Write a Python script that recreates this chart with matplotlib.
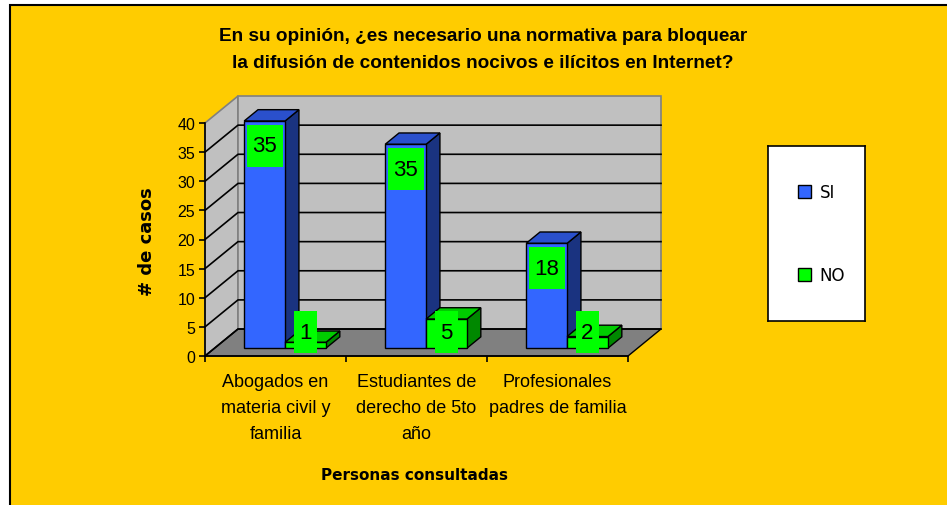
import matplotlib
matplotlib.use("Agg")
import matplotlib.pyplot as plt
from matplotlib.patches import Polygon, Rectangle, Patch

# datos
categorias = ["Abogados en\nmateria civil y\nfamilia",
              "Estudiantes de\nderecho de 5to\naño",
              "Profesionales\npadres de familia"]
si_valores = [39, 35, 18]
si_etiquetas = ["35", "35", "18"]
no_valores = [1, 5, 2]
no_etiquetas = ["1", "5", "2"]
series = ["SI", "NO"]
yticks = [0, 5, 10, 15, 20, 25, 30, 35, 40]

W, H = 947, 506
fig = plt.figure(figsize=(W / 100, H / 100), dpi=100)
fig.patch.set_facecolor("white")

# fondo amarillo con borde
fondo = Rectangle((10 / W, -0.1), 1.2, (H - 6) / H + 0.1, transform=fig.transFigure,
                  facecolor="#FFCC00", edgecolor="black", lw=1.5, zorder=-10)
fig.patches.append(fondo)

# ejes en el plano frontal
ax = fig.add_axes([205 / W, (H - 357) / H, 423 / W, 233 / H])
ax.set_xlim(0, 3)
ax.set_ylim(0, 40)
ax.patch.set_visible(False)

DX = 33 / 141.0   # profundidad en unidades de categoria
DY = 27 / 5.83    # profundidad en unidades de valor
d0, d1 = 0.29, 0.71
ancho = 0.29
upx = 5.83  # pixeles por unidad


def P(x, y, d):
    return (x + d * DX, y + d * DY)


def poly(pts, fc, ec, lw=1.0, z=1):
    ax.add_patch(Polygon(pts, closed=True, facecolor=fc, edgecolor=ec, lw=lw,
                         zorder=z, clip_on=False, joinstyle="miter"))


ymax = yticks[-1]
# paredes y piso
poly([P(0, 0, 0), P(0, 0, 1), P(0, ymax, 1), P(0, ymax, 0)], "#C0C0C0", "#808080", 1.2, 0.5)
poly([P(0, 0, 1), P(3, 0, 1), P(3, ymax, 1), P(0, ymax, 1)], "#C0C0C0", "#808080", 1.2, 0.5)
poly([P(0, 0, 0), P(3, 0, 0), P(3, 0, 1), P(0, 0, 1)], "#808080", "black", 1.0, 0.6)

for v in yticks[:-1]:
    xs, ys = zip(P(0, v, 0), P(0, v, 1), P(3, v, 1))
    ax.plot(xs, ys, color="black", lw=1.2, zorder=0.8, clip_on=False)

colores = {"SI": ("#3366FF", "#2A50CC", "#1A3380"),
           "NO": ("#00FF00", "#00CC00", "#008800")}

base = d0 * DY
for c in range(len(categorias)):
    for s, (vals, etqs) in enumerate([(si_valores, si_etiquetas), (no_valores, no_etiquetas)]):
        v = vals[c]
        x0 = c + 0.5 - ancho + s * ancho
        x1 = x0 + ancho
        fc, tc, sc = colores[series[s]]
        z = 2 + c * 2 + s * 0.5
        poly([P(x1, 0, d0), P(x1, 0, d1), P(x1, v, d1), P(x1, v, d0)], sc, "black", 1.0, z)
        poly([P(x0, v, d0), P(x1, v, d0), P(x1, v, d1), P(x0, v, d1)], tc, "black", 1.0, z)
        poly([P(x0, 0, d0), P(x1, 0, d0), P(x1, v, d0), P(x0, v, d0)], fc, "black", 1.0, z)
        # etiqueta de datos
        txt = etqs[c]
        cx = (x0 + x1) / 2 + d0 * DX
        cy = base + max(v - 25 / upx, 16 / upx)
        bw = (len(txt) * 13.5 + 9) / 141.0
        bh = 42 / upx
        ax.add_patch(Rectangle((cx - bw / 2, cy - bh / 2), bw, bh, facecolor="#00FF00",
                               edgecolor="none", zorder=10, clip_on=False))
        ax.text(cx, cy, txt, ha="center", va="center", fontsize=16,
                family="Liberation Sans", zorder=11)

# ejes
for lado in ["top", "right"]:
    ax.spines[lado].set_visible(False)
ax.spines["left"].set_linewidth(1.2)
ax.spines["bottom"].set_linewidth(1.2)
ax.spines["left"].set_zorder(1)
ax.spines["bottom"].set_zorder(1)
ax.set_yticks(yticks)
ax.set_yticklabels([str(t) for t in yticks], fontsize=11.5, family="Liberation Sans")
ax.tick_params(axis="y", direction="out", length=4, width=1.2, pad=3)
ax.set_xticks([0, 1, 2, 3])
ax.set_xticklabels([])
ax.tick_params(axis="x", which="major", direction="out", length=4, width=1.2)
ax.set_xticks([0.5, 1.5, 2.5], minor=True)
ax.set_xticklabels(categorias, minor=True, fontsize=13, family="Liberation Sans",
                   linespacing=1.72)
ax.tick_params(axis="x", which="minor", length=0, pad=12)

ax.set_ylabel("# de casos", fontsize=13, fontweight="bold")
ax.yaxis.set_label_coords((156 - 205) / 423, (357 - 242) / 233)
fig.text(414 / W, (H - 476) / H, "Personas consultadas", ha="center", va="center",
         fontsize=11, fontweight="bold")

fig.text(483 / W, (H - 50) / H,
         "En su opinión, ¿es necesario una normativa para bloquear\n"
         "la difusión de contenidos nocivos e ilícitos en Internet?",
         ha="center", va="center", fontsize=13.7, fontweight="bold",
         family="Liberation Sans", linespacing=1.78)

# leyenda
lax = fig.add_axes([768 / W, (H - 322) / H, 97 / W, 175 / H])
lax.set_xticks([])
lax.set_yticks([])
for sp in lax.spines.values():
    sp.set_linewidth(1.2)
handles = [Patch(facecolor=colores[s][0], edgecolor="black", lw=1.0, label=s) for s in series]
lax.legend(handles=handles, loc="center", frameon=False, fontsize=12,
           handlelength=0.8, handleheight=0.8, handletextpad=0.5,
           labelspacing=3.9, bbox_to_anchor=(0.55, 0.5))

fig.savefig("out.png", dpi=100, facecolor=fig.get_facecolor())
